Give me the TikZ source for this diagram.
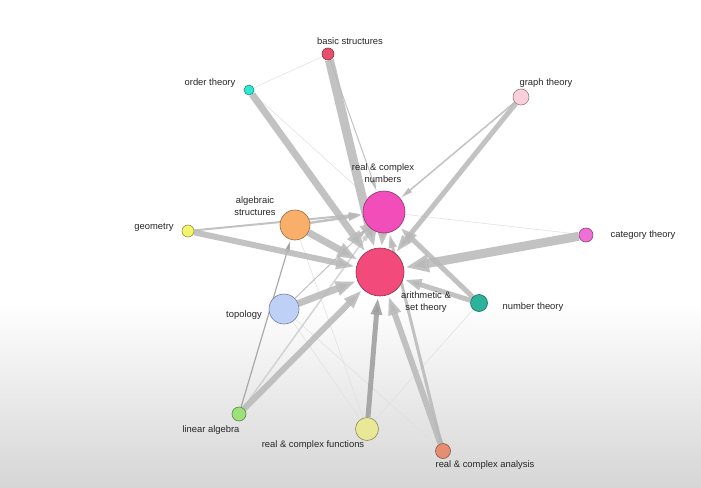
\documentclass[tikz,border=0pt]{standalone}
\usepackage{fontspec}
\setmainfont{Liberation Sans}
\usetikzlibrary{arrows.meta,calc}
\definecolor{linkgrey}{HTML}{B8B8B8}
\definecolor{linkdark}{HTML}{9C9C9C}
\definecolor{txtgrey}{HTML}{262626}
\definecolor{bggrey}{HTML}{D6D6D6}
\definecolor{cbasic}{HTML}{E8506A}
\definecolor{corder}{HTML}{2EE8D0}
\definecolor{cgraph}{HTML}{FBD0DC}
\definecolor{crcnum}{HTML}{F24EBA}
\definecolor{calg}{HTML}{F9AE6A}
\definecolor{cgeo}{HTML}{F4F46C}
\definecolor{ccat}{HTML}{EE70D4}
\definecolor{carith}{HTML}{F24A7A}
\definecolor{cnum}{HTML}{2BB39C}
\definecolor{ctop}{HTML}{BFD0F7}
\definecolor{clin}{HTML}{9EE07A}
\definecolor{crcfun}{HTML}{E8E897}
\definecolor{crcana}{HTML}{E58E72}
\pgfdeclarelayer{back}
\pgfdeclarelayer{links}
\pgfsetlayers{back,links,main}
\tikzset{
  topic/.style = {circle, draw=#1!60!black, fill=#1, line width=0.6pt, inner sep=0pt},
  link/.style  = {line width=#1, draw=linkgrey, opacity=0.85,
                  -{Triangle[length=9pt 1.6, width=3pt 1.5]}, shorten >=1.5pt},
  faint/.style = {line width=0.5pt, draw=linkgrey!45},
  lbl/.style   = {font=\fontsize{9.4}{12.5}\selectfont, text=txtgrey, inner sep=1pt, align=center},
}
\begin{document}
\begin{tikzpicture}[x=1pt, y=-1pt]
  \useasboundingbox (0,0) rectangle (701,487);
  \begin{pgfonlayer}{back}
    \fill[white] (0,0) rectangle (701,487);
    \shade[top color=white, bottom color=bggrey] (0,300) rectangle (701,487);
  \end{pgfonlayer}
  % topics
  \node[topic=cbasic, minimum size=12pt] (bs)  at (328,54)  {};
  \node[topic=corder, minimum size=10pt] (ord) at (249,90)  {};
  \node[topic=cgraph, minimum size=16pt] (gt)  at (521,97)  {};
  \node[topic=crcnum, minimum size=42pt] (rcn) at (384,212) {};
  \node[topic=calg,   minimum size=30pt] (alg) at (295,225) {};
  \node[topic=cgeo,   minimum size=12pt] (geo) at (188,231) {};
  \node[topic=ccat,   minimum size=14pt] (cat) at (586,235) {};
  \node[topic=carith, minimum size=48pt] (ari) at (380,272) {};
  \node[topic=cnum,   minimum size=17pt] (nt)  at (479,303) {};
  \node[topic=ctop,   minimum size=30pt] (top) at (284,309) {};
  \node[topic=clin,   minimum size=14pt] (lin) at (239,414) {};
  \node[topic=crcfun, minimum size=23pt] (rcf) at (367,429) {};
  \node[topic=crcana, minimum size=15pt] (rca) at (443,451) {};
  % labels
  \node[lbl] (bs-l)  at ($(bs)+(22,-13)$)  {basic structures};
  \node[lbl] (ord-l) at ($(ord)+(-39,-7)$) {order theory};
  \node[lbl] (gt-l)  at ($(gt)+(25,-14)$)  {graph theory};
  \node[lbl] (rcn-l) at ($(rcn)+(-1,-39)$) {real \& complex\\numbers};
  \node[lbl] (alg-l) at ($(alg)+(-40,-19)$) {algebraic\\structures};
  \node[lbl] (geo-l) at ($(geo)+(-34,-4)$) {geometry};
  \node[lbl] (cat-l) at ($(cat)+(57,0)$)   {category theory};
  \node[lbl] (ari-l) at ($(ari)+(46,30)$)  {arithmetic \&\\set theory};
  \node[lbl] (nt-l)  at ($(nt)+(54,4)$)    {number theory};
  \node[lbl] (top-l) at ($(top)+(-40,6)$)  {topology};
  \node[lbl] (lin-l) at ($(lin)+(-28,16)$) {linear algebra};
  \node[lbl] (rcf-l) at ($(rcf)+(-54,16)$) {real \& complex functions};
  \node[lbl] (rca-l) at ($(rca)+(42,14)$)  {real \& complex analysis};
  % links, kept under the topics
  \begin{pgfonlayer}{links}
    \draw[faint] (ord) -- (bs);
    \draw[faint] (ord) -- (rcn);
    \draw[faint] (cat) -- (rcn);
    \draw[faint] (rca) -- (top);
    \draw[faint] (rcf) -- (top);
    \draw[faint] (rcf) -- (alg);
    \draw[faint] (rcf) -- (nt);
    \draw[link=1pt] (bs) -- (rcn);
    \draw[link=1.5pt] (gt) -- (rcn);
    \draw[link=5pt] (nt) -- (rcn);
    \draw[link=2pt] (geo) -- (rcn);
    \draw[link=2.5pt] (alg) -- (rcn);
    \draw[link=3pt] (rca) -- (rcn);
    \draw[link=1pt] (top) -- (rcn);
    \draw[link=1.5pt, draw=linkgrey!70] (lin) -- (rcn);
    \draw[link=1.2pt, draw=linkdark] (lin) -- (alg);
    \draw[link=7pt] (ord) -- (ari);
    \draw[link=9pt] (bs) -- (ari);
    \draw[link=5pt] (gt) -- (ari);
    \draw[link=9pt] (cat) -- (ari);
    \draw[link=5pt] (nt) -- (ari);
    \draw[link=6pt] (geo) -- (ari);
    \draw[link=7pt] (alg) -- (ari);
    \draw[link=7pt] (top) -- (ari);
    \draw[link=6pt] (lin) -- (ari);
    \draw[link=5pt, draw=linkdark] (rcf) -- (ari);
    \draw[link=6pt] (rca) -- (ari);
    \draw[link=7pt] (rcn) -- (ari);
  \end{pgfonlayer}
\end{tikzpicture}
\end{document}
